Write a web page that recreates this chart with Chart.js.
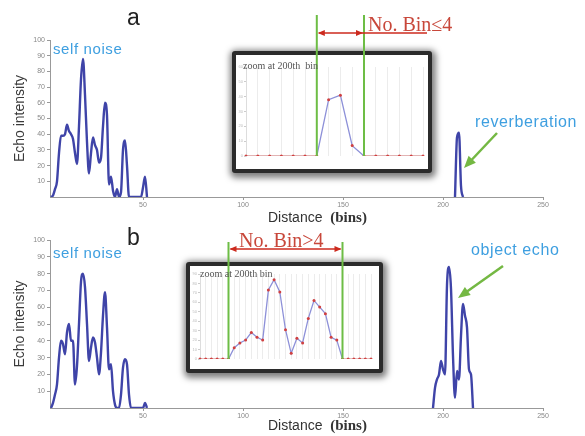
<!DOCTYPE html>
<html>
<head>
<meta charset="utf-8">
<script src="https://cdn.jsdelivr.net/npm/chart.js@4.4.0/dist/chart.umd.min.js"></script>
<style>
body{margin:0;background:#fff;}
#wrap{position:relative;width:585px;height:436px;overflow:hidden;font-family:"Liberation Sans",Arial,sans-serif;}
.abs{position:absolute;}
.inset{position:absolute;background:#fff;border:4px solid #2b2b2b;border-radius:3px;box-shadow:1px 2px 6px 3px rgba(0,0,0,0.5);}
.txt{position:absolute;line-height:1;white-space:pre;z-index:6;}
.zt{font-family:"Liberation Serif",serif;color:#555;}
.blue{color:#3e9fe0;font-size:15px;letter-spacing:0.6px;}
.red{font-family:"Liberation Serif",serif;color:#c8473a;font-size:20px;}
.xt{font-size:14px;color:#333;}
.xt b{font-family:"Liberation Serif",serif;font-size:15px;}
.lab{font-size:23px;color:#222;}
</style>
</head>
<body>
<div id="wrap">
  <canvas id="chartA" class="abs" width="585" height="225" style="left:0;top:0"></canvas>
  <canvas id="chartB" class="abs" width="585" height="211" style="left:0;top:225px"></canvas>

  <div class="inset" style="left:232px;top:51px;width:192px;height:114px">
    <canvas id="insetA" width="192" height="114"></canvas>
  </div>
  <div class="inset" style="left:186px;top:262px;width:189px;height:103px">
    <canvas id="insetB" width="189" height="103"></canvas>
  </div>

  <canvas id="overlay" class="abs" width="585" height="436" style="left:0;top:0;z-index:5;pointer-events:none"></canvas>

  <div class="txt lab" style="left:127px;top:6px">a</div>
  <div class="txt lab" style="left:127px;top:226px">b</div>
  <div class="txt blue" style="left:53px;top:41px">self noise</div>
  <div class="txt blue" style="left:53px;top:245px">self noise</div>
  <div class="txt blue" style="left:475px;top:114px;font-size:16px">reverberation</div>
  <div class="txt blue" style="left:471px;top:242px;font-size:16px">object echo</div>
  <div class="txt zt" style="left:243px;top:61px;font-size:10px">zoom at 200th  bin</div>
  <div class="txt zt" style="left:200px;top:269px;font-size:10px">zoom at 200th bin</div>
  <div class="txt red" style="left:368px;top:14px">No. Bin≤4</div>
  <div class="txt red" style="left:239px;top:230px">No. Bin&gt;4</div>
  <div class="txt xt" style="left:268px;top:210px">Distance  <b>(bins)</b></div>
  <div class="txt xt" style="left:268px;top:418px">Distance  <b>(bins)</b></div>
</div>

<script>
// panel a : self noise
const noiseABins = [4,5,6,7,8,9,10,11,12,13,14,15,16,17,18,19,20,21,22,23,24,25,26,27,28,29,30,31,32,33,34,35,36,37,38,39,40,41,42,43,44,45,46,47,48,49,50,51,52];
const noiseAVals = [0,1,5,10,28,39,39,40,46,42,40,37,28,21,45,75,88,65,35,15,28,38,33,30,22,25,45,60,52,8,13,4,0,5,0,3,30,36,20,0,0,0,0,0,0,0,6,13,0];

// panel b : self noise
const noiseBBins = noiseABins;
const noiseBVals = [0,3,8,14,30,40,38,32,45,50,40,40,14,25,50,75,80,72,50,28,36,42,39,30,20,33,55,69,48,23,26,10,2,0,0,8,24,29,26,8,0,0,0,0,0,0,0,3,0];

// zoom at 200th bin (also the echo in the main plots)
const insetABins = [200,201,202,203,204,205,206,207,208,209,210,211,212,213,214,215];
const insetAVals = [0,0,0,0,0,0,0,38,41,7,0,0,0,0,0,0];
const insetBBins = [190,191,192,193,194,195,196,197,198,199,200,201,202,203,204,205,206,207,208,209,210,211,212,213,214,215,216,217,218,219,220];
const insetBVals = [0,0,0,0,0,0,12,17,20,28,23,20,73,84,71,31,6,22,17,43,62,55,48,23,20,0,0,0,0,0,0];

const xTicks = [50,100,150,200,250];
const yTicks = [10,20,30,40,50,60,70,80,90,100];

// first and last zero around the echo -> bin count markers
function peakSpan(vals){
    let s = vals.findIndex(v => v > 0) - 1;
    let e = vals.length - 1;
    while (vals[e] === 0) e--;
    return [s, e + 1];
}

function pts(bins, vals){
    return bins.map((b, i) => ({x: b, y: vals[i]}));
}

function mainChart(id, padTop, noiseBins, noiseVals, echoBins, echoVals){
    const [s, e] = peakSpan(echoVals);
    const line = {borderColor: '#3f44a8', borderWidth: 2.4, pointRadius: 0, cubicInterpolationMode: 'monotone', fill: false};
    return new Chart(document.getElementById(id), {
        type: 'line',
        data: {
            datasets: [
                Object.assign({data: pts(noiseBins, noiseVals)}, line),
                Object.assign({data: pts(echoBins.slice(s, e + 1), echoVals.slice(s, e + 1))}, line)
            ]
        },
        options: {
            responsive: false,
            animation: false,
            layout: {padding: {top: padTop, right: 42, left: 0, bottom: 0}},
            plugins: {legend: {display: false}, tooltip: {enabled: false}},
            scales: {
                x: {
                    type: 'linear', min: 3.5, max: 250,
                    afterBuildTicks: sc => { sc.ticks = xTicks.map(v => ({value: v})); },
                    afterFit: sc => { sc.height = 28; },
                    ticks: {font: {size: 7}, color: '#888', maxRotation: 0, padding: 1},
                    grid: {drawOnChartArea: false, tickLength: 3, color: '#999'},
                    border: {color: '#999'}
                },
                y: {
                    min: 0, max: 100,
                    afterBuildTicks: sc => { sc.ticks = yTicks.map(v => ({value: v})); },
                    afterFit: sc => { sc.width = 50; },
                    ticks: {font: {size: 7}, color: '#888', padding: 2},
                    grid: {drawOnChartArea: false, tickLength: 3, color: '#999'},
                    border: {color: '#999'},
                    title: {display: true, text: 'Echo intensity', color: '#3a3a3a', font: {size: 14, family: '"Liberation Sans", Arial, sans-serif'}, padding: {top: 12, bottom: 0}}
                }
            }
        }
    });
}

function insetChart(id, bins, vals, pad, yMax, xH){
    return new Chart(document.getElementById(id), {
        type: 'line',
        data: {
            labels: bins,
            datasets: [{
                data: vals,
                borderColor: '#8d90d8',
                borderWidth: 1.3,
                pointRadius: 1.5,
                pointBackgroundColor: '#d04040',
                pointBorderColor: '#d04040',
                pointBorderWidth: 0,
                segment: {
                    borderColor: c => (c.p0.parsed.y === 0 && c.p1.parsed.y === 0) ? '#d99a9a' : '#8d90d8'
                }
            }]
        },
        options: {
            responsive: false,
            animation: false,
            layout: {padding: pad},
            plugins: {legend: {display: false}, tooltip: {enabled: false}},
            scales: {
                x: {
                    offset: false,
                    afterFit: sc => { sc.height = xH; },
                    ticks: {display: false},
                    grid: {color: '#ececec', drawTicks: false},
                    border: {display: false}
                },
                y: {
                    min: 0, max: yMax,
                    afterFit: sc => { sc.width = 10; },
                    ticks: {stepSize: 10, font: {size: 4}, color: '#bbb', padding: 1},
                    grid: {drawOnChartArea: false, tickLength: 2, color: '#ccc'},
                    border: {color: '#ddd'}
                }
            }
        }
    });
}

function drawOverlay(insA, valsA, insB, valsB){
    const ctx = document.getElementById('overlay').getContext('2d');

    function span(chart, vals){
        const [s, e] = peakSpan(vals);
        const r = chart.canvas.getBoundingClientRect();
        return {
            x1: r.left + chart.scales.x.getPixelForValue(s),
            x2: r.left + chart.scales.x.getPixelForValue(e),
            base: r.top + chart.scales.y.getPixelForValue(0)
        };
    }
    function seg(x1, y1, x2, y2, col, w){
        ctx.strokeStyle = col; ctx.lineWidth = w;
        ctx.beginPath(); ctx.moveTo(x1, y1); ctx.lineTo(x2, y2); ctx.stroke();
    }
    function head(x, y, ang, len, hw, col){
        ctx.fillStyle = col;
        ctx.beginPath();
        ctx.moveTo(x, y);
        ctx.lineTo(x - len * Math.cos(ang) - hw * Math.sin(ang), y - len * Math.sin(ang) + hw * Math.cos(ang));
        ctx.lineTo(x - len * Math.cos(ang) + hw * Math.sin(ang), y - len * Math.sin(ang) - hw * Math.cos(ang));
        ctx.closePath();
        ctx.fill();
    }
    function arrow(x1, y1, x2, y2, col, w, len, hw){
        const ang = Math.atan2(y2 - y1, x2 - x1);
        seg(x1, y1, x2 - len * 0.6 * Math.cos(ang), y2 - len * 0.6 * Math.sin(ang), col, w);
        head(x2, y2, ang, len, hw, col);
    }

    const green = '#6dbd45', red = '#cc2a1e';

    // panel a
    const a = span(insA, valsA);
    seg(a.x1, 15, a.x1, a.base, green, 2);
    seg(a.x2, 15, a.x2, a.base, green, 2);
    seg(a.x1 + 2, 33, 427, 33, red, 1.6);
    head(a.x1 + 1, 33, Math.PI, 7, 3, red);
    head(a.x2 - 1, 33, 0, 7, 3, red);

    // panel b
    const b = span(insB, valsB);
    seg(b.x1, 242, b.x1, b.base, green, 2);
    seg(b.x2, 242, b.x2, b.base, green, 2);
    seg(b.x1 + 2, 249, b.x2 - 2, 249, red, 1.6);
    head(b.x1 + 1, 249, Math.PI, 7, 3, red);
    head(b.x2 - 1, 249, 0, 7, 3, red);

    // pointers to the echoes
    arrow(497, 133, 464, 168, '#74b843', 2.5, 12, 5);
    arrow(503, 266, 458, 298, '#74b843', 2.5, 12, 5);
}

mainChart('chartA', 40, noiseABins, noiseAVals, insetABins, insetAVals);
mainChart('chartB', 15, noiseBBins, noiseBVals, insetBBins, insetBVals);
const insA = insetChart('insetA', insetABins, insetAVals, {top: 12, right: 5, left: 0, bottom: 0}, 60, 13);
const insB = insetChart('insetB', insetBBins, insetBVals, {top: 8, right: 8, left: 0, bottom: 0}, 90, 10);
drawOverlay(insA, insetAVals, insB, insetBVals);
</script>
</body>
</html>
